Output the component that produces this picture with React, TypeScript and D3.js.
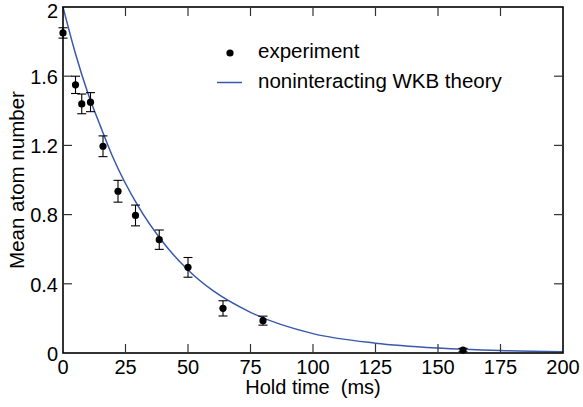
import * as d3 from 'd3'

// experiment: hold time (ms), mean atom number, error half-width
const holdTimes = [0, 5, 7.5, 11, 16, 22, 29, 38.5, 50, 64, 80, 160]
const atomNumbers = [1.85, 1.55, 1.44, 1.45, 1.195, 0.935, 0.795, 0.655, 0.495, 0.258, 0.187, 0.017]
const atomErrors = [0.03, 0.05, 0.057, 0.055, 0.06, 0.063, 0.06, 0.056, 0.057, 0.044, 0.026, 0.01]

// noninteracting WKB theory
const theoryTimes = [0, 5, 10, 15, 20, 30, 40, 50, 60, 75, 100, 125, 150, 175, 200]
const theoryValues = [2.0, 1.73, 1.5, 1.31, 1.13, 0.85, 0.64, 0.48, 0.36, 0.235, 0.112, 0.057, 0.029, 0.014, 0.007]

const xTicks = [0, 25, 50, 75, 100, 125, 150, 175, 200]
const yTicks = [0, 0.4, 0.8, 1.2, 1.6, 2]

const width = 583
const height = 407
const margin = { top: 7, right: 20, bottom: 54, left: 63 }
const font = '"Liberation Sans", Arial, Helvetica, sans-serif'
const curveColor = '#3a59ad'
const fs = 20

export default function App() {
  const x = d3.scaleLinear().domain([0, 200]).range([margin.left, width - margin.right])
  const y = d3.scaleLinear().domain([0, 2]).range([height - margin.bottom, margin.top])

  const line = d3.line<number>()
    .x((_, i) => x(theoryTimes[i]))
    .y(d => y(d))
    .curve(d3.curveMonotoneX)

  const x0 = margin.left
  const x1 = width - margin.right
  const y0 = height - margin.bottom
  const y1 = margin.top
  const tick = 9

  return (
    <svg width={width} height={height} style={{ position: 'absolute', left: 0, top: 0, background: '#fff' }}
      fontFamily={font}>
      <rect width={width} height={height} fill="#fff" />

      {/* theory curve */}
      <path d={line(theoryValues) || ''} fill="none" stroke={curveColor} strokeWidth={1.5} />

      {/* experiment with error bars */}
      {holdTimes.map((t, i) => {
        const cx = x(t)
        const top = y(atomNumbers[i] + atomErrors[i])
        const bot = y(atomNumbers[i] - atomErrors[i])
        return (
          <g key={i} stroke="#000" strokeWidth={1.1}>
            <line x1={cx} x2={cx} y1={top} y2={bot} />
            <line x1={cx - 4.5} x2={cx + 4.5} y1={top} y2={top} />
            <line x1={cx - 4.5} x2={cx + 4.5} y1={bot} y2={bot} />
            <circle cx={cx} cy={y(atomNumbers[i])} r={3.6} fill="#000" stroke="none" />
          </g>
        )
      })}

      {/* frame */}
      <rect x={x0} y={y1} width={x1 - x0} height={y0 - y1} fill="none" stroke="#000" strokeWidth={1.6} />

      {/* x ticks */}
      {xTicks.map(t => (
        <g key={'x' + t}>
          {t > 0 && t < 200 && (
            <>
              <line x1={x(t)} x2={x(t)} y1={y0} y2={y0 - tick} stroke="#333" strokeWidth={1.2} />
              <line x1={x(t)} x2={x(t)} y1={y1} y2={y1 + tick} stroke="#333" strokeWidth={1.2} />
            </>
          )}
          <text x={x(t)} y={y0 + 20.5} textAnchor="middle" fontSize={fs} fill="#000">{t}</text>
        </g>
      ))}

      {/* y ticks */}
      {yTicks.map(v => (
        <g key={'y' + v}>
          {v > 0 && v < 2 && (
            <>
              <line x1={x0} x2={x0 + tick} y1={y(v)} y2={y(v)} stroke="#333" strokeWidth={1.2} />
              <line x1={x1} x2={x1 - tick} y1={y(v)} y2={y(v)} stroke="#333" strokeWidth={1.2} />
            </>
          )}
          <text x={58} y={Math.max(y(v) + 2.5, 13)} textAnchor="end" dominantBaseline="middle" fontSize={fs} fill="#000">
            {v === 0 || v === 2 ? String(v) : v.toFixed(1)}
          </text>
        </g>
      ))}

      {/* axis titles */}
      <text x={(x0 + x1) / 2} y={394} textAnchor="middle" fontSize={fs} fill="#000" style={{ whiteSpace: 'pre' }}>
        {'Hold time  (ms)'}
      </text>
      <text transform={`translate(24,${(y0 + y1) / 2}) rotate(-90)`} textAnchor="middle" fontSize={fs + 0.5} fill="#000">
        Mean atom number
      </text>

      {/* legend */}
      <circle cx={230} cy={53} r={3.6} fill="#000" />
      <text x={258} y={58} fontSize={fs + 0.5} fill="#000">experiment</text>
      <line x1={217} x2={242} y1={82.5} y2={82.5} stroke={curveColor} strokeWidth={1.5} />
      <text x={258} y={88} fontSize={fs + 0.5} fill="#000">noninteracting WKB theory</text>
    </svg>
  )
}
